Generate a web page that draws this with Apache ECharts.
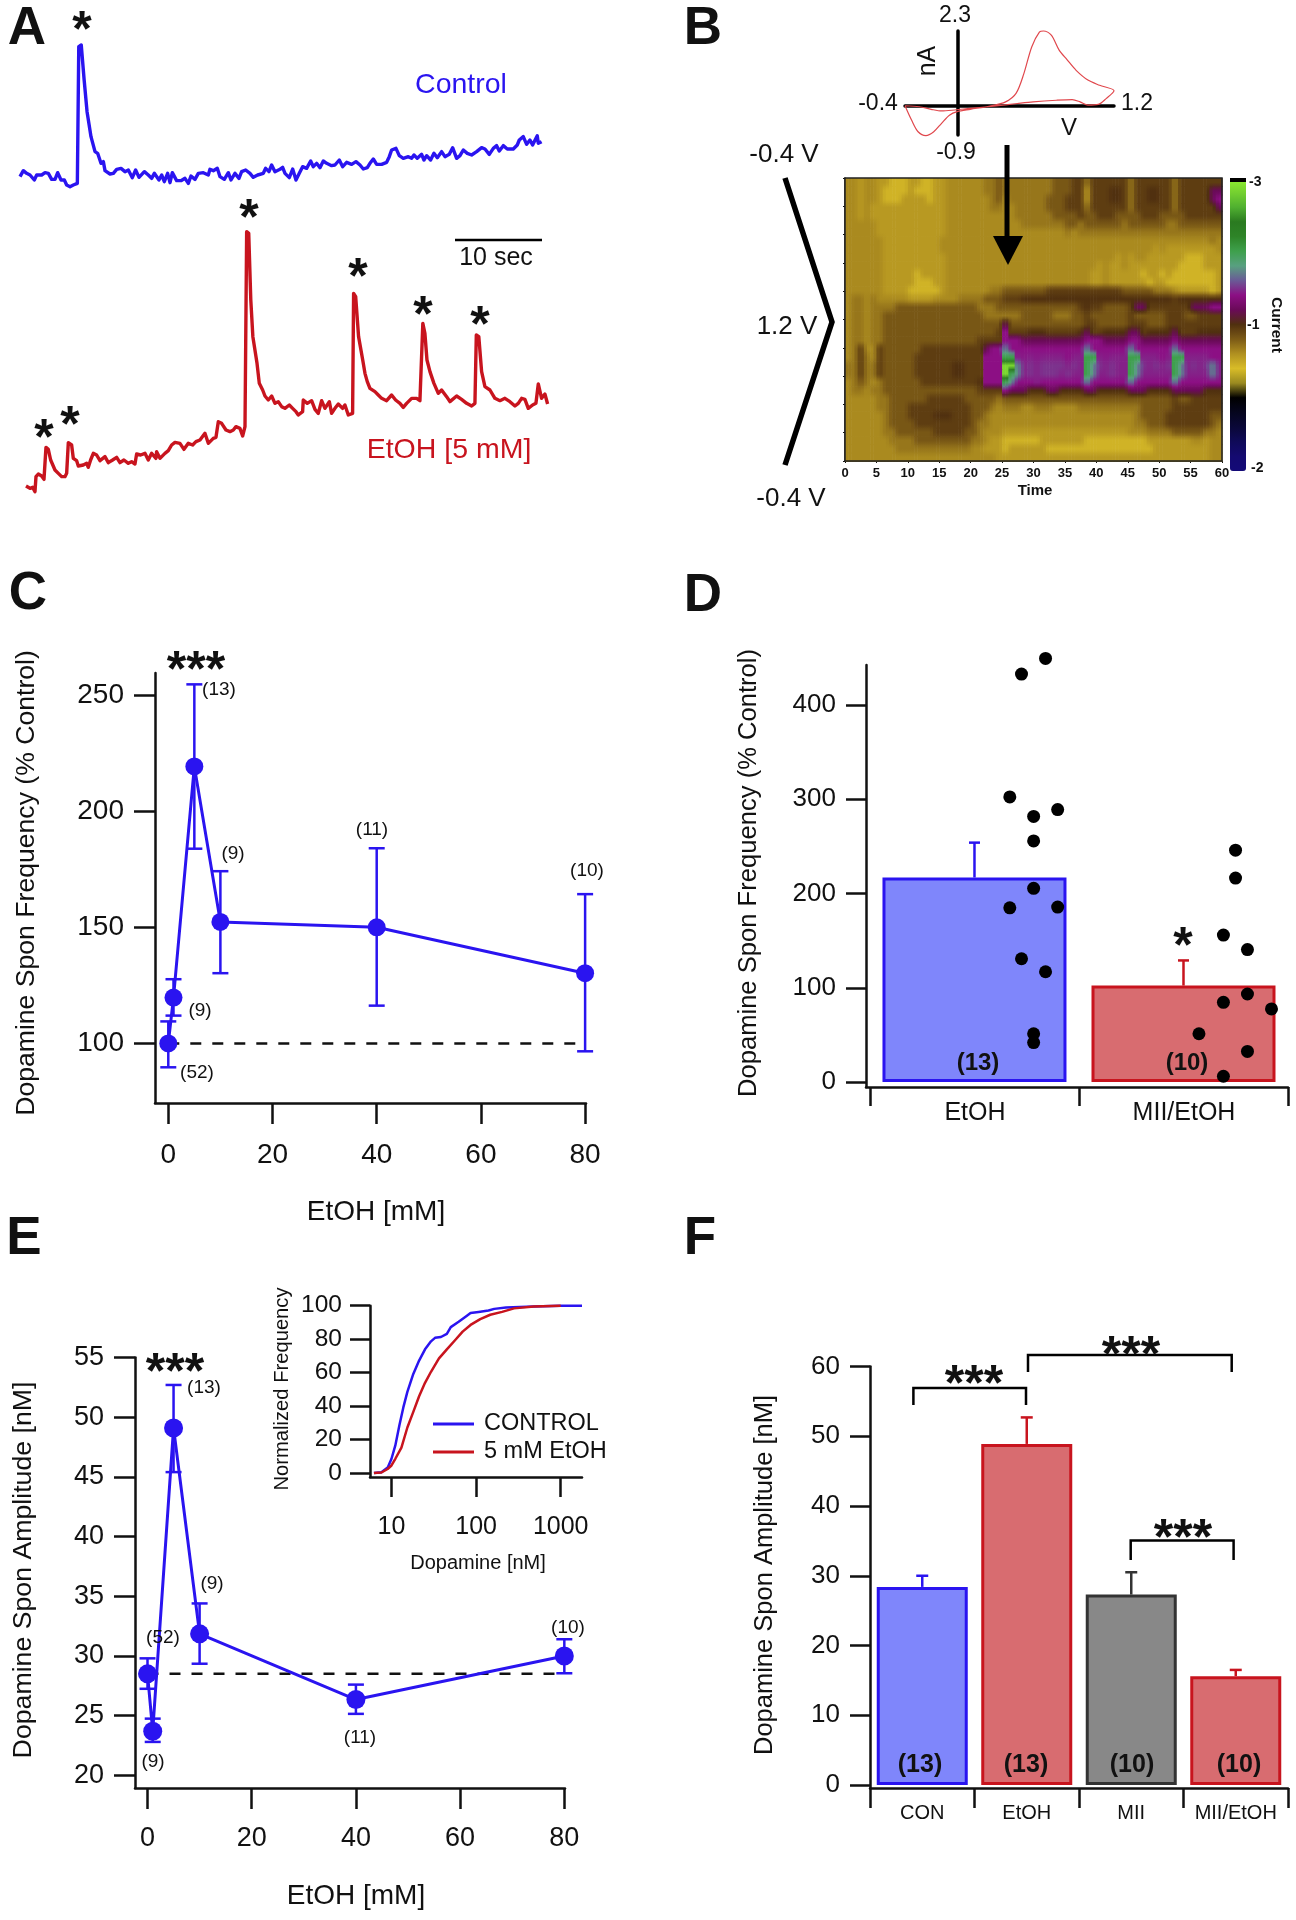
<!DOCTYPE html>
<html><head><meta charset="utf-8">
<style>html,body{margin:0;padding:0;background:#fff}#c{width:1296px;height:1920px}</style>
<script src="https://cdn.jsdelivr.net/npm/echarts@6/dist/echarts.min.js"></script>
</head><body><div id="c"></div>
<script>
// ---------- Panel A traces: [time tick, signal]
const controlTrace=[[48.3,1030],[56.3,1048],[64.3,1040],[72.4,1035],[82.8,1020],[88.5,1035],[100.5,1035],[108.6,1042],[116.6,1040],[124.6,1022],[132.7,1022],[139.1,1042],[147.2,1020],[155.2,1020],[160.8,1005],[168.9,1000],[176.9,1005],[186.6,1010],[190,1420],[196,1425],[203,1320],[210,1225],[219.5,1150],[229.2,1105],[235.6,1100],[243.6,1070],[249.3,1075],[253.3,1048],[265.3,1038],[273.4,1040],[281.4,1052],[291.9,1055],[301.5,1045],[309.6,1050],[319.2,1027],[327.2,1050],[335.3,1028],[348.2,1045],[357.8,1035],[365.8,1025],[372.3,1040],[383.5,1020],[390,1035],[396.4,1015],[404.4,1040],[410.1,1012],[415.7,1042],[426.1,1018],[436.6,1018],[446.2,1025],[454.3,1010],[460.7,1032],[470.4,1022],[478.4,1040],[490.5,1042],[502.5,1035],[506.5,1052],[514.6,1048],[524.2,1055],[530.7,1030],[541.1,1022],[550.8,1042],[557.2,1020],[566.8,1040],[576.5,1025],[582.9,1045],[592.6,1050],[603,1040],[611,1028],[621.5,1035],[635.2,1040],[640.8,1055],[648.8,1045],[655.3,1065],[663.3,1045],[675.4,1052],[681.8,1058],[687.5,1040],[697.9,1027],[706,1053],[714,1020],[722,1040],[730,1060],[739.7,1055],[749.4,1077],[755.8,1060],[763.8,1070],[771.9,1057],[779.9,1077],[788,1070],[800,1063],[808,1065],[818.5,1080],[826.6,1060],[836.2,1073],[848.3,1067],[858.7,1075],[868.4,1065],[876.4,1053],[886,1057],[892.5,1070],[900.5,1083],[908.6,1067],[920.6,1067],[932.7,1073],[939.1,1090],[944.7,1110],[955.2,1115],[963.2,1093],[972.9,1085],[984.9,1090],[993,1085],[998.6,1095],[1006.6,1085],[1017.1,1097],[1022.7,1080],[1029.2,1093],[1038.8,1080],[1046.8,1100],[1054.9,1087],[1065.3,1105],[1073.4,1090],[1083.8,1097],[1091.9,1117],[1101.5,1085],[1109.6,1093],[1117.6,1110],[1127.2,1100],[1137.7,1095],[1149.8,1105],[1161.8,1117],[1169.9,1113],[1180.3,1097],[1190,1115],[1198,1123],[1204.4,1107],[1214.1,1123],[1223.7,1113],[1238.2,1113],[1247.8,1125],[1252.7,1140],[1262.3,1150],[1270.4,1127],[1278.4,1140],[1284.8,1125],[1296,1153],[1298.5,1130],[1306.5,1135]];
const etohTrace=[[62.7,102],[72.3,95],[78.8,98],[84.4,85],[86.8,130],[92.4,138],[100.5,132],[106.1,122],[110.9,218],[116.5,212],[122.2,180],[127,175],[132.6,150],[140.7,140],[148.7,130],[156.7,130],[160.8,140],[164.8,232],[172.8,225],[176.8,185],[184.9,178],[188.9,162],[201,165],[209,170],[213,158],[218.6,180],[225.1,200],[233.1,195],[241.2,178],[253.2,190],[261.3,172],[271.7,180],[281.4,188],[289.4,172],[299,180],[309.5,170],[317.5,175],[325.6,168],[329.6,198],[339.2,195],[349.7,200],[357.7,180],[365.8,200],[376.2,185],[377.8,205],[385.9,185],[397.9,200],[406,208],[414,225],[422.1,233],[434.1,230],[443.8,212],[454.2,230],[464.7,225],[472.7,235],[482.4,240],[494.4,260],[502.5,230],[514.5,245],[521,248],[526.6,295],[534.6,290],[545.1,270],[554.7,265],[562.8,270],[569.2,280],[578.8,275],[585.3,252],[591,280],[595,865],[600,860],[605,660],[610,550],[620,470],[625.5,410],[633.6,390],[639.2,372],[647.2,360],[655.3,372],[663.3,350],[671.3,355],[679.4,340],[687.4,335],[697.9,345],[705.9,335],[714,325],[719.6,315],[730,325],[731.6,360],[741.3,350],[751.7,358],[759.8,332],[767.8,320],[775.9,358],[783.9,335],[794.4,355],[800,320],[808,335],[816.1,348],[826.5,335],[832.1,345],[840.2,315],[850.6,320],[853,680],[858,670],[865,550],[875,480],[880.4,440],[886,415],[892.4,395],[904.5,385],[912.5,375],[920.6,365],[932.6,358],[944.7,375],[954.3,360],[964.8,350],[972.8,338],[980.9,350],[993,365],[1005,365],[1013,358],[1017,360],[1020,590],[1025,560],[1030,480],[1037.2,445],[1046.8,410],[1057.3,380],[1065.3,390],[1077.4,370],[1085.4,355],[1101.5,372],[1113.5,362],[1125.6,350],[1137.7,342],[1145.7,350],[1149,555],[1155,550],[1161.8,445],[1169.8,400],[1181.9,390],[1193.9,365],[1206,358],[1218,365],[1230.1,355],[1242.2,342],[1250.2,350],[1258.3,365],[1266.3,362],[1274.3,335],[1284.8,345],[1292.8,350],[1298.5,408],[1306.5,365],[1314.5,378],[1321,348]];
// ---------- Panel B voltammogram: [V, nA]
const voltammogram=[[-0.40,0],[-0.35,-0.44],[-0.30,-0.80],[-0.24,-0.92],[-0.18,-0.80],[-0.12,-0.54],[-0.06,-0.29],[0,-0.18],[0.10,-0.11],[0.25,-0.01],[0.37,0.12],[0.45,0.38],[0.51,0.99],[0.57,1.81],[0.63,2.27],[0.66,2.30],[0.72,2.17],[0.78,1.71],[0.84,1.42],[0.91,1.09],[1.00,0.79],[1.09,0.63],[1.20,0.46],[1.14,0.22],[1.08,0.04],[1.00,0.02],[0.94,0.12],[0.88,0.19],[0.76,0.17],[0.58,0.12],[0.46,0.07],[0.28,-0.01],[0.10,-0.08],[-0.02,-0.13],[-0.12,-0.16],[-0.20,-0.11],[-0.29,-0.03],[-0.40,0]];
// ---------- Panel B colour plot: rows (top to bottom), one letter per second
const heatLevels={y:-0.2,g:-0.05,o:0.03,p:0.12,b:0.27,d:0.42,e:0.5,m:0.75,M:1,k:1.06,n:1.03,s:1.12,t:1.4,G:1.75,L:2.8};
const heatRows=[
"oogoo ggyyyggyyggo oooooppb ppppppppbbbdd pdddddd pdddddd pddddddd",
"oogoo gyyyygyyyggo oooooppb ppppppppbbbdd gdddeed pddeedd pdddddmm",
"oogoo gyyyggggyggo oooooopb oppppppbbbddd gdddeed pddeedd pdddddmM",
"oogog gggggggggggo oooooopp oopppppbbbddd pdddddd pdddddd pddddddm",
"oogog gggggggggggo oooooooo ooppppppbbbbd bbdddbb bbdddbb bbdddddd",
"ooooo gggggggggggo oooooooo ooopppppppbbp bbbbbbp bbbbbbp pbbbbbbb",
"ooooo gggggggggggo oooooooo oooooooooopop ppppppp ppppppp pppppppp",
"ooooo ogggggggggoo oooooooo ooooooooooooo ooooooo ooooooo oooooopo",
"ooooo ogggggggggoo oooooooo ooooooooooooo ooooooo oooogog gggggggo",
"ooooo oggggggggggo oooooooo ooooooooooooo ooooogo googggg ggyyyggg",
"ooooo oggggggggggo oooooooo ooooooooooooo oogoggo ggggggg gyyyyggg",
"ooooo ogggggyggggo oooooooo ooooooooooooo oggoggg ggyggyg yyyyyyyg",
"ooooo ogggggyyyggo oooooooo ooooooooooooo oggoggg gggyggy yyyyyyyg",
"ooooo oggggyyyyygo oooooopp bbbbbbbdddddd ddddddb bbbbppp ogggggyg",
"oppop oooooggggooo oppppbbb dddeeeeeeeeee eeeeeee eeeeeee deeeeeee",
"oppop pppbbbbbbbbb bbbbpppb bbbbbbbbbbbbd eddbbbb dmmdddd dddmmmMM",
"oppop pbbbbbbbbbbb bbbbbppp pppbbbbbpppbb dbbbbbb dbbbbbd ddbbdddd",
"oppop pbbbbbbbbbbb bbbbbbbb mbbbbbbbbbbbb ddbbbbb dddbbbd dddddddd",
"oppop pbbbbbbbbbbb bbbbbbbd Mdddeeeddddde mddeeee mmdeeee mdddeeee",
"oppop pbbbbbbbbbbb bbbbdddd MMMmmmmmmmmmm MMMmmmm MMmmmmm Mmmmmmmm",
"opdoo dbbbbbbddddd dddddmMM tMMMMMMMMMMMM tMMMMMM tMMMMMM tMMMMMMM",
"opdpo dbbbbbdddddd dddddMMM GGknknkkkkMkk GGknkkk GGkkkMk GGkkkkMM",
"ppdpp dbbbbbdddddd eedddMMM LLtkskssssksk Gtskskk Gtsksks Gtkskstk",
"ppdpp dbbbbbdddddd eedddMMM LGtkskssskskk Gtkkskk Gtkkkkk Gtkkkktk",
"opbpo pbbbbbbddddd ddddeMMM GtMMMkMMMMMMM tMMMMMM tMMMMMM tMMMMMMM",
"oppop pbbbbbbbbbbb bbbbdddd Mmmmeeemmeeee mmeeeee mmmeeee mmmmmeee",
"ooooo ppbbbbbbdddd ddbbbbbp bbbbbbbbbbbbb bbbbbbb bbbbbbb dbbddddd",
"ooooo ppbbbddddddd dddbbbpo pppoopppoooop ppppppp ppbbbbb dddddddd",
"ooooo opbbbddddeee dddbbpoo ooooooooooooo ooooooo opbbbbd ddddddbb",
"ooooo opbbbbdddddd dddbppoo ooooooooooooo ooooooo oppbbbd ddddddbp",
"ooooo oppbbbbbbddd ddbbpooo ggggggggggggg ggggggg ooopppp bbbbbppo",
"ooooo ooppppbbbbbb bbbppogg yyyyyyggggggg yyyyyyy yyygggg gggoogoo",
"ooooo oooppppppppp pppooggg yggggggyyyyyy yyyyyyy yyyyggg ggggggoo",
"ooooo oooooooooooo ooooooog ggggggggggggg ggggggg ggggggg ggggggoo"];
const heatColors=['#140a78','#140a70','#0f0a58','#0a0838','#05051e','#000000','#9a8a20','#d8bc28','#b09020','#7c5a16','#50300f','#6a0a58','#8c0f84','#6a5a96','#58a080','#3ea04c','#2e8428','#2a7a20','#50b030','#74d030','#90f030'];
// ---------- Panel C
const doseC=[0,1,5,10,40,80];
const freqMean=[100,119.8,219.5,152.4,150.1,130.3];
const freqHigh=[109.5,127.7,254.9,174.3,184.2,164.4];
const freqLow=[89.7,112,184,130.3,116.3,96.6];
// ---------- Panel D
const barsD=['EtOH','MII/EtOH'];
const meanD=[217,102.3];
const errD=[254,129];
const pointsD=[[0.725,432.9],[0.840,449.5],[0.669,302.5],[0.783,281.8],[0.898,289.1],[0.783,255.8],[0.783,205.5],[0.669,184.8],[0.898,185.6],[0.725,130.8],[0.840,117],[0.783,51.2],[0.783,41.8],[1.749,246],[1.749,216.4],[1.691,155.9],[1.806,140.5],[1.806,93.4],[1.691,84.5],[1.921,77.6],[1.574,51.2],[1.806,32.5],[1.691,6.1]];
// ---------- Panel E
const doseE=[0,1,5,10,40,80];
const ampMean=[28.5,23.7,49.1,31.85,26.35,30];
const ampHigh=[29.8,24.75,52.7,34.4,27.6,31.4];
const ampLow=[27.25,22.8,45.4,29.35,25.15,28.55];
// ---------- Panel E inset: [dopamine nM, normalized frequency]
const cdfControl=[[6.2,0],[7.6,0.5],[9,3.2],[10,8.5],[11.1,16.5],[12.4,28.5],[13.8,39.2],[15.4,48.5],[18.1,59.2],[21.2,67.2],[24.9,73.9],[29.3,78.7],[32.7,80.8],[38.4,81.3],[45.1,83.2],[50.2,87.2],[62.2,90.4],[77.2,93.9],[86,95.7],[107,96.3],[140,97.1],[164,98.1],[226,98.9],[481,99.5],[1000,100],[1786,100]];
const cdfEtoh=[[6.2,0],[7.6,0.3],[9,2.4],[10,4.5],[11.1,8.5],[13.1,15.2],[15.4,27.2],[18.1,36.5],[21.2,45.9],[24.9,53.9],[29.3,60.5],[36.4,68.5],[45.1,73.9],[56,79.2],[69.3,84.5],[86,88.5],[112,92],[147,94.6],[203,96.3],[281,98.4],[481,99.5],[1000,100]];
// ---------- Panel F
const barsF=['CON','EtOH','MII','MII/EtOH'];
const meanF=[28.4,48.9,27.3,15.6];
const errF=[30,52.7,30.5,16.5];

const BLUE='#2a14f0',RED='#c8141e',FONT='"Liberation Sans",Arial,sans-serif',NARROW='"Liberation Sans Narrow","Liberation Sans",sans-serif';
const BLUEFILL='#7f86fb',REDFILL='#d86c70',GREYFILL='#888888',INK='#111';

function errSeries(x,y,data,cap,color,z,lowCap){
  return {type:'custom',xAxisIndex:x,yAxisIndex:y,z:z||3,silent:true,clip:false,data:data,
    encode:{x:0,y:[1,2]},
    renderItem:function(p,api){
      const a=api.coord([api.value(0),api.value(1)]),b=api.coord([api.value(0),api.value(2)]);
      const s={stroke:color,lineWidth:2.5,fill:null};
      const kids=[
        {type:'line',shape:{x1:a[0],y1:a[1],x2:b[0],y2:b[1]},style:s},
        {type:'line',shape:{x1:b[0]-cap,y1:b[1],x2:b[0]+cap,y2:b[1]},style:s}];
      if(lowCap!==false)kids.push({type:'line',shape:{x1:a[0]-cap,y1:a[1],x2:a[0]+cap,y2:a[1]},style:s});
      return {type:'group',children:kids};
    }};
}
function hiddenAxis(g,min,max){return {type:'value',gridIndex:g,min:min,max:max,show:false};}
function sciAxis(type,g,min,max,values,size,len,margin,extra){
  return Object.assign({type:type,gridIndex:g,min:min,max:max,
    axisLine:{show:true,onZero:false,lineStyle:{color:'#111',width:2.5}},
    axisTick:{show:true,length:len,customValues:values,lineStyle:{color:'#111',width:2.5}},
    axisLabel:{show:true,customValues:values,fontFamily:FONT,fontSize:size,color:INK,margin:margin,formatter:v=>String(v)},
    splitLine:{show:false}},extra||{});
}

const heatGrid=heatRows.map(row=>row.replace(/ /g,'').split('').map(ch=>heatLevels[ch]));
const heatData=[];
heatGrid.forEach((row,r)=>row.forEach((v,t)=>heatData.push([t,r,v])));
const heatColor=v=>echarts.color.lerp((v+2)/5,heatColors);
// Softens each cell towards its left or right neighbour, keeping the sharp onset of a spike.
function stripValue(r,t,side){
  const row=heatGrid[Math.max(0,Math.min(heatGrid.length-1,r))],v=row[t];
  const n=row[t+side]===undefined?v:row[t+side];
  return Math.abs(n-v)>=0.5?v:v*0.75+n*0.25;
}

const grids=[
 {left:0,top:0,width:650,height:520},
 {left:905,top:31,width:209,height:104},
 {left:845,top:178,width:377,height:283},
 {left:155,top:673,width:431,height:430},
 {left:866,top:665,width:422,height:422},
 {left:135,top:1357.5,width:430,height:430.5},
 {left:370,top:1305.7,width:212,height:171.3},
 {left:870,top:1366.5,width:418,height:421.5}
];
const xAxes=[
 hiddenAxis(0,0,1568),
 {type:'value',gridIndex:1,min:-0.4,max:1.2,axisLine:{show:true,lineStyle:{color:'#000',width:3.5}},axisTick:{show:false},axisLabel:{show:false},splitLine:{show:false}},
 {type:'value',gridIndex:2,min:0,max:60,interval:5,axisLine:{show:true,onZero:false,lineStyle:{color:'#111',width:1.5}},axisTick:{show:true,length:2,lineStyle:{color:'#111'}},
   axisLabel:{fontFamily:NARROW,fontWeight:'bold',fontSize:13,color:INK,margin:6},splitLine:{show:false}},
 sciAxis('value',3,-2.55,80.17,[0,20,40,60,80],28,21,38),
 sciAxis('value',4,-0.019,2,[0,1,2],25,19,12,{axisLabel:{show:false}}),
 sciAxis('value',5,-2.4,80.13,[0,20,40,60,80],27,21,37),
 sciAxis('log',6,5.57,1786,[10,100,1000],25,20,38,{logBase:10}),
 {type:'category',gridIndex:7,data:barsF,axisLine:{show:true,onZero:false,lineStyle:{color:'#111',width:2.5}},axisTick:{show:true,length:20,alignWithLabel:false,interval:0,lineStyle:{color:'#111',width:2.5}},
   axisLabel:{fontFamily:FONT,fontSize:20,color:INK,margin:15,interval:0}}
];
const yAxes=[
 hiddenAxis(0,0,1560),
 {type:'value',gridIndex:1,min:-0.9,max:2.3,axisLine:{show:true,lineStyle:{color:'#000',width:3.5}},axisTick:{show:false},axisLabel:{show:false},splitLine:{show:false}},
 {type:'value',gridIndex:2,min:0,max:34,interval:3.4,inverse:true,axisLine:{show:true,onZero:false,lineStyle:{color:'#111',width:1.5}},axisTick:{show:true,length:2,lineStyle:{color:'#111'}},axisLabel:{show:false},splitLine:{show:false}},
 sciAxis('value',3,74.3,259.8,[100,150,200,250],28,21,31),
 sciAxis('value',4,-5.3,442.5,[0,100,200,300,400],26,20,30),
 sciAxis('value',5,18.94,55,[20,25,30,35,40,45,50,55],27,21,31),
 sciAxis('value',6,-2.4,100,[0,20,40,60,80,100],24.5,20,28),
 sciAxis('value',7,-0.43,60,[0,10,20,30,40,50,60],26,20,30)
];

const pairs=(xs,ys)=>xs.map((v,i)=>[v,ys[i]]);
const lineSeries=(name,x,data,color,w,extra)=>Object.assign({type:'line',name:name,xAxisIndex:x,yAxisIndex:x,data:data,showSymbol:false,symbol:'none',silent:true,clip:false,
   lineStyle:{color:color,width:w,join:'round'},itemStyle:{color:color}},extra||{});

const series=[
 lineSeries('Control',0,controlTrace,BLUE,3.4),
 lineSeries('EtOH [5 mM]',0,etohTrace,RED,3.4),
 lineSeries('Voltammogram',1,voltammogram,'#e0474c',1.2,{smooth:0.3,z:1}),
 {type:'custom',name:'Current',xAxisIndex:2,yAxisIndex:2,data:heatData,silent:true,encode:{x:0,y:1},z:1,
   renderItem:function(p,api){
     const t=api.value(0),r=api.value(1);
     const a=api.coord([t,r]),b=api.coord([t+1,r+1]);
     const w=(b[0]-a[0])/2;
     const kids=[-1,1].map(function(side,i){
       const v=stripValue(r,t,side),vt=stripValue(r-1,t,side),vb=stripValue(r+1,t,side);
       const fill=new echarts.graphic.LinearGradient(0,0,0,1,[
         {offset:0,color:heatColor((vt+v)/2)},{offset:0.5,color:heatColor(v)},{offset:1,color:heatColor((vb+v)/2)}]);
       return {type:'rect',shape:{x:a[0]+i*w,y:a[1],width:w+0.6,height:b[1]-a[1]+0.7},style:{fill:fill,stroke:null}};
     });
     return {type:'group',children:kids};
   }},
 lineSeries('Baseline C',3,[[0,100],[80,100]],'#111',2.5,{lineStyle:{color:'#111',width:2.5,type:[11,11]},z:2}),
 errSeries(3,3,doseC.map((v,i)=>[v,freqLow[i],freqHigh[i]]),8,BLUE),
 lineSeries('Frequency',3,pairs(doseC,freqMean),BLUE,3,{showSymbol:true,symbol:'circle',symbolSize:18,z:4}),
 {type:'bar',name:'Frequency bars',xAxisIndex:4,yAxisIndex:4,barWidth:184,silent:true,z:2,clip:false,
  data:[{value:[0.5,meanD[0]],itemStyle:{color:BLUEFILL,borderColor:BLUE,borderWidth:3}},{value:[1.5,meanD[1]],itemStyle:{color:REDFILL,borderColor:RED,borderWidth:3}}]},
 errSeries(4,4,[[0.5,meanD[0],errD[0]]],5.5,BLUE,1,false),
 errSeries(4,4,[[1.5,meanD[1],errD[1]]],5.5,RED,1,false),
 {type:'scatter',name:'Cells',xAxisIndex:4,yAxisIndex:4,data:pointsD,symbolSize:13,itemStyle:{color:'#000',opacity:1},silent:true,clip:false,z:5},
 lineSeries('Baseline E',5,[[0,28.5],[80,28.5]],'#111',2.5,{lineStyle:{color:'#111',width:2.5,type:[11,11]},z:2}),
 errSeries(5,5,doseE.map((v,i)=>[v,ampLow[i],ampHigh[i]]),8,BLUE),
 lineSeries('Amplitude',5,pairs(doseE,ampMean),BLUE,3,{showSymbol:true,symbol:'circle',symbolSize:19,z:4}),
 lineSeries('CONTROL',6,cdfControl,BLUE,2.5),
 lineSeries('5 mM EtOH',6,cdfEtoh,RED,2.5),
 {type:'bar',name:'Amplitude bars',xAxisIndex:7,yAxisIndex:7,barWidth:91,silent:true,z:2,
  data:[{value:meanF[0],itemStyle:{color:BLUEFILL,borderColor:BLUE,borderWidth:3}},{value:meanF[1],itemStyle:{color:REDFILL,borderColor:RED,borderWidth:3}},{value:meanF[2],itemStyle:{color:GREYFILL,borderColor:'#333',borderWidth:3}},{value:meanF[3],itemStyle:{color:REDFILL,borderColor:RED,borderWidth:3}}]},
 errSeries(7,7,[[0,meanF[0],errF[0]]],6,BLUE,1,false),
 errSeries(7,7,[[1,meanF[1],errF[1]]],6,RED,1,false),
 errSeries(7,7,[[2,meanF[2],errF[2]]],6,'#333',1,false),
 errSeries(7,7,[[3,meanF[3],errF[3]]],6,RED,1,false)
];

function T(text,x,y,size,o){o=o||{};
  return {type:'text',x:x,y:y,rotation:o.rot||0,z:50,silent:true,style:{text:text,fill:o.color||INK,font:(o.bold?'bold ':'')+size+'px '+(o.family||FONT),textAlign:o.align||'center',textVerticalAlign:'middle',align:o.align||'center',verticalAlign:'middle'}};
}
function star(text,x,y,size){size=size||50;return T(text,x,y+size*0.23,size,{bold:true});}
function path(points,w,color){return {type:'polyline',z:40,silent:true,shape:{points:points},style:{stroke:color||'#000',lineWidth:w,fill:null,lineJoin:'miter'}};}
const up=Math.PI/2;
const g=[
 T('A',27,29,53,{bold:true}),T('B',703,29,53,{bold:true}),T('C',28,594,53,{bold:true}),T('D',703,596,53,{bold:true}),T('E',24,1239,53,{bold:true}),T('F',700,1239,53,{bold:true}),
 T('Control',461,85,28.5,{color:BLUE}),T('EtOH [5 mM]',449,450,28.5,{color:RED}),T('10 sec',496,258,25),
 path([[455,240],[542,240]],2.5),
 star('*',82,21),star('*',249,209),star('*',358,268),star('*',423,306),star('*',480,316),star('*',44,429),star('*',70,416),
 T('-0.4 V',784,155,26),T('1.2 V',787,327,26),T('-0.4 V',791,499,26),
 T('2.3',955,16,23),T('nA',928,61,25,{rot:up}),T('-0.4',878,104,23),T('1.2',1137,104,23),T('V',1069,128,24),T('-0.9',956,153,23),
 path([[785,178],[832,322],[785,465]],5.5),
 path([[1007,145],[1007,238]],5),
 {type:'polygon',z:40,silent:true,shape:{points:[[993,236],[1023,236],[1008,265]]},style:{fill:'#000'}},
 {type:'rect',z:39,silent:true,shape:{x:845,y:178,width:377,height:283},style:{fill:null,stroke:'#222',lineWidth:1.5}},
 {type:'rect',z:39,silent:true,shape:{x:1230,y:178,width:16,height:4},style:{fill:'#000'}},
 T('-3',1249,182,14,{bold:true,align:'left',family:NARROW}),
 T('-1',1247,325,14,{bold:true,align:'left',family:NARROW}),
 T('-2',1251,468,14,{bold:true,align:'left',family:NARROW}),
 T('Current',1276,325,15.5,{bold:true,rot:-up}),
 T('Time',1035,491,15,{bold:true,family:NARROW}),
 T('Dopamine Spon Frequency (% Control)',27,883,26.6,{rot:up}),
 T('EtOH [mM]',376,1212,28),
 star('***',196,661),
 T('(13)',219,690,19),T('(9)',233,854,19),T('(11)',372,830,19),T('(10)',587,871,19),T('(9)',200,1011,19),T('(52)',197,1073,19),
 T('Dopamine Spon Frequency (% Control)',749,873,25.6,{rot:up}),
 T(barsD[0],975,1113,25),T(barsD[1],1184,1113,25),
 T('(13)',978,1063,24,{bold:true}),T('(10)',1187,1063,24,{bold:true}),
 star('*',1183,937),
 T('Dopamine Spon Amplitude [nM]',24,1570,26.7,{rot:up}),
 T('EtOH [mM]',356,1896,28),
 star('***',175,1363),
 T('(13)',204,1388,19),T('(9)',212,1584,19),T('(52)',163,1638,19),T('(9)',153,1762,19),T('(11)',360,1738,19),T('(10)',568,1628,19),
 T('Normalized Frequency',282,1389,20.2,{rot:up}),
 T('Dopamine [nM]',478,1563,20),
 T('Dopamine Spon Amplitude [nM]',765,1575,25.5,{rot:up}),
 T('(13)',920,1765,25,{bold:true}),T('(13)',1026,1765,25,{bold:true}),T('(10)',1132,1765,25,{bold:true}),T('(10)',1239,1765,25,{bold:true}),
 path([[913.4,1405],[913.4,1388],[1026,1388],[1026,1405]],2.5),
 path([[1028,1372],[1028,1355],[1231.7,1355],[1231.7,1372]],2.5),
 path([[1130.7,1560],[1130.7,1540.4],[1233.6,1540.4],[1233.6,1560]],2.5),
 star('***',974,1375),star('***',1131,1346),star('***',1183,1529)
];

const chart=echarts.init(document.getElementById('c'),null,{renderer:'canvas',width:1296,height:1920});
chart.setOption({
  animation:false,backgroundColor:'#fff',textStyle:{fontFamily:FONT},
  grid:grids,xAxis:xAxes,yAxis:yAxes,series:series,graphic:{elements:g},
  legend:{data:['CONTROL','5 mM EtOH'],orient:'vertical',left:433,top:1412,padding:0,itemWidth:41,itemHeight:3,itemGap:4,icon:'rect',selectedMode:false,
    textStyle:{fontFamily:FONT,fontSize:23.5,color:INK,padding:[0,0,0,5]}},
  visualMap:{type:'continuous',seriesIndex:3,dimension:2,min:-2,max:3,calculable:false,show:true,left:1230,top:178,itemWidth:16,itemHeight:293,padding:0,text:null,showLabel:false,inRange:{color:heatColors},hoverLink:false}
});
</script></body></html>
